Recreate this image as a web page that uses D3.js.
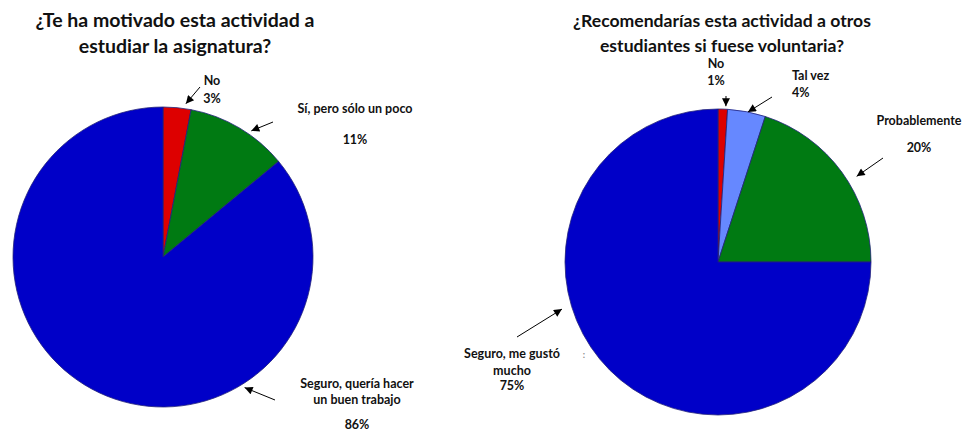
<!DOCTYPE html>
<html>
<head>
<meta charset="utf-8">
<script src="https://cdn.jsdelivr.net/npm/d3@7"></script>
<style>
  html, body { margin: 0; padding: 0; background: #fff; }
  svg { display: block; font-family: Lato, "Open Sans", sans-serif; font-weight: bold; }
</style>
</head>
<body>
<svg id="chart" width="975" height="433"></svg>
<script>
// Survey answers, question 1
const q1Title = ["¿Te ha motivado esta actividad a", "estudiar la asignatura?"];
const q1Categories = ["No", "Sí, pero sólo un poco", "Seguro, quería hacer un buen trabajo"];
const q1Values = [3, 11, 86];

// Survey answers, question 2
const q2Title = ["¿Recomendarías esta actividad a otros", "estudiantes si fuese voluntaria?"];
const q2Categories = ["No", "Tal vez", "Probablemente", "Seguro, me gustó mucho"];
const q2Values = [1, 4, 20, 75];

// Slice colours per category
const q1Colors = ["#dd0000", "#007a12", "#0000c8"];
const q2Colors = ["#dd0000", "#6688ff", "#007a12", "#0000c8"];

// Layout of each pie and its annotations
const pies = [
  {
    title: q1Title, categories: q1Categories, values: q1Values, colors: q1Colors,
    cx: 163, cy: 257, r: 150, titleX: 175, titleY: [27, 53], titleSize: 19.5,
    labels: [
      { lines: ["No", "{p}"], x: 212, y: [85, 103], anchor: "middle",
        tail: [200, 87], tipAngle: 8.5, tipR: 155 },
      { lines: ["Sí, pero sólo un poco", "", "{p}"], x: 355, y: [113, 128, 144], anchor: "middle",
        tail: [273, 122], tipAngle: 35, tipR: 154 },
      { lines: ["Seguro, quería hacer", "un buen trabajo", "", "{p}"], x: 357, y: [388, 404, 416, 429], anchor: "middle",
        tail: [275, 400], tipAngle: 148, tipR: 154 }
    ]
  },
  {
    title: q2Title, categories: q2Categories, values: q2Values, colors: q2Colors,
    cx: 718, cy: 262, r: 153, titleX: 722, titleY: [27, 52], titleSize: 17.6,
    labels: [
      { lines: ["No", "{p}"], x: 716, y: [68, 85], anchor: "middle",
        tail: [726, 96], tipAngle: 2.9, tipR: 156 },
      { lines: ["Tal vez", "{p}"], x: 792, y: [80, 97], anchor: "start",
        tail: [772, 97], tipAngle: 11.3, tipR: 153 },
      { lines: ["Probablemente", "", "{p}"], x: 919, y: [125, 138, 152], anchor: "middle",
        tail: [883, 158], tipAngle: 58.3, tipR: 163 },
      { lines: ["Seguro, me gustó", "mucho", "{p}"], x: 512, y: [358, 375, 390], anchor: "middle",
        tail: [517, 337], tipAngle: 253.2, tipR: 163 }
    ]
  }
];

const svg = d3.select("#chart");

svg.append("defs").append("marker")
  .attr("id", "head")
  .attr("viewBox", "0 0 10 10")
  .attr("refX", 10).attr("refY", 5)
  .attr("markerWidth", 10).attr("markerHeight", 8)
  .attr("markerUnits", "userSpaceOnUse")
  .attr("orient", "auto")
  .append("path").attr("d", "M0,0 L10,5 L0,10 Z").attr("fill", "#000");

const pie = d3.pie().sort(null).value(d => d);

pies.forEach(cfg => {
  const arc = d3.arc().innerRadius(0).outerRadius(cfg.r);
  const g = svg.append("g").attr("transform", `translate(${cfg.cx},${cfg.cy})`);

  g.selectAll("path.slice")
    .data(pie(cfg.values))
    .join("path")
    .attr("class", "slice")
    .attr("d", arc)
    .attr("fill", (d, i) => cfg.colors[i])
    .attr("stroke", "#22227a")
    .attr("stroke-width", 0.8)
    .attr("stroke-linejoin", "round");

  // Title
  svg.append("text")
    .attr("x", cfg.titleX)
    .attr("text-anchor", "middle")
    .attr("font-size", cfg.titleSize)
    .attr("fill", "#111")
    .selectAll("tspan")
    .data(cfg.title)
    .join("tspan")
    .attr("x", cfg.titleX)
    .attr("y", (d, i) => cfg.titleY[i])
    .text(d => d);

  // Category labels with arrows
  cfg.labels.forEach((lab, i) => {
    const pct = cfg.values[i] + "%";
    const t = svg.append("text")
      .attr("text-anchor", lab.anchor)
      .attr("font-size", 12.5)
      .attr("fill", "#111");
    lab.lines.forEach((ln, k) => {
      if (!ln) return;
      t.append("tspan")
        .attr("x", lab.x)
        .attr("y", lab.y[k])
        .text(ln === "{p}" ? pct : ln);
    });
    const a = lab.tipAngle * Math.PI / 180;
    const tipX = cfg.cx + lab.tipR * Math.sin(a);
    const tipY = cfg.cy - lab.tipR * Math.cos(a);
    svg.append("line")
      .attr("x1", lab.tail[0]).attr("y1", lab.tail[1])
      .attr("x2", tipX).attr("y2", tipY)
      .attr("stroke", "#000")
      .attr("stroke-width", 1)
      .attr("marker-end", "url(#head)");
  });
});

// Stray mark beside the second pie
svg.append("text")
  .attr("x", 584).attr("y", 358)
  .attr("font-size", 9)
  .attr("fill", "#888")
  .attr("text-anchor", "middle")
  .text(":");
</script>
</body>
</html>
